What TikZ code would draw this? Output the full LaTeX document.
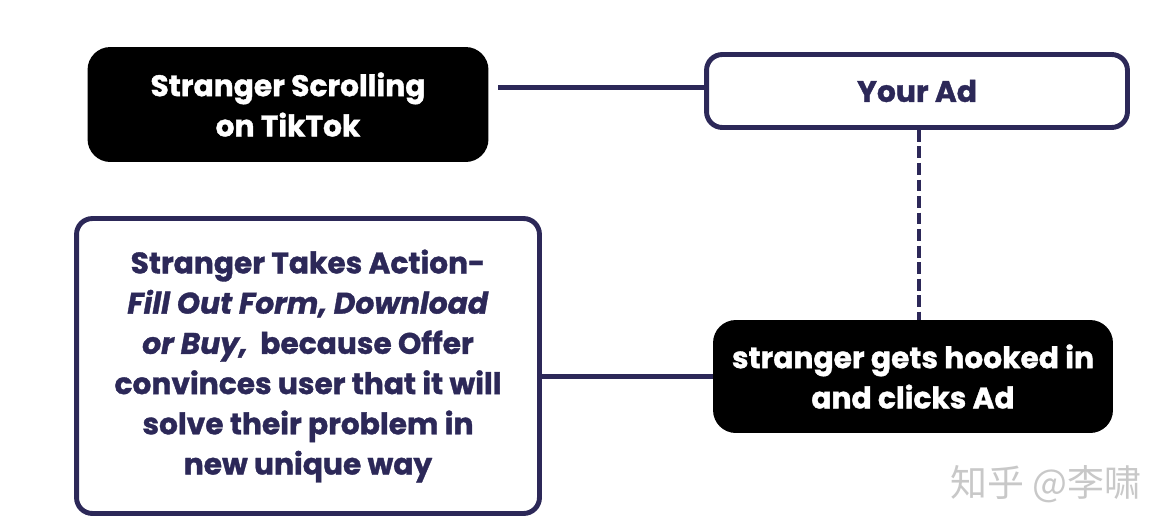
\documentclass[tikz,border=0pt]{standalone}
\usepackage{fontspec}
\setmainfont{Poppins}[BoldFeatures={FakeBold=1.2},BoldItalicFeatures={FakeBold=1.2}]
\newfontfamily\cjk{Noto Sans CJK SC}
\usetikzlibrary{positioning}
\definecolor{navy}{RGB}{44,40,88}
\definecolor{watermark}{RGB}{200,200,200}

\begin{document}
\begin{tikzpicture}[x=0.02cm,y=-0.02cm,
  txt/.style={font=\bfseries\fontsize{16.9}{22.9}\selectfont,align=center,inner sep=0pt},
  darkbox/.style={txt,fill=black,text=white,rounded corners=13pt},
  linebox/.style={txt,draw=navy,line width=2.8pt,text=navy,rounded corners=9pt},
  link/.style={navy,line width=2.8pt},
  dashlink/.style={navy,line width=2.3pt,dash pattern=on 6.8pt off 2.6pt}]
\useasboundingbox[fill=white] (0,0) rectangle (1162,528);
% boxes
\node[darkbox,minimum width=8.02cm,minimum height=2.3cm] (scroll) at (288,104.5)
  {Stranger Scrolling\\on TikTok};
\node[linebox,minimum width=8.42cm,minimum height=1.46cm] (ad) at (917,91) {Your Ad};
\node[darkbox,minimum width=8cm,minimum height=2.26cm] (hook) at (913,376.5)
  {stranger gets hooked in\\and clicks Ad};
\node[linebox,minimum width=9.26cm,minimum height=5.9cm] (act) at (308,366)
  {Stranger Takes Action-\\
   \textit{Fill Out Form, Download}\\
   \textit{or Buy,}\ \ because Offer\\
   convinces user that it will\\
   solve their problem in\\
   new unique way};
% connectors
\draw[link] ([xshift=5.5pt,yshift=2pt]scroll.east |- ad.west) -- ([yshift=2pt]ad.west);
\draw[dashlink] ([xshift=1pt]ad.south) -- ([xshift=1pt]ad.south |- hook.north);
\draw[link] (act.east |- hook.west) -- (hook.west);
% watermark
\node[font=\cjk\fontsize{21}{24}\selectfont,text=watermark,anchor=west] (wm) at (944,484) {知乎 @李啸};
\end{tikzpicture}
\end{document}
